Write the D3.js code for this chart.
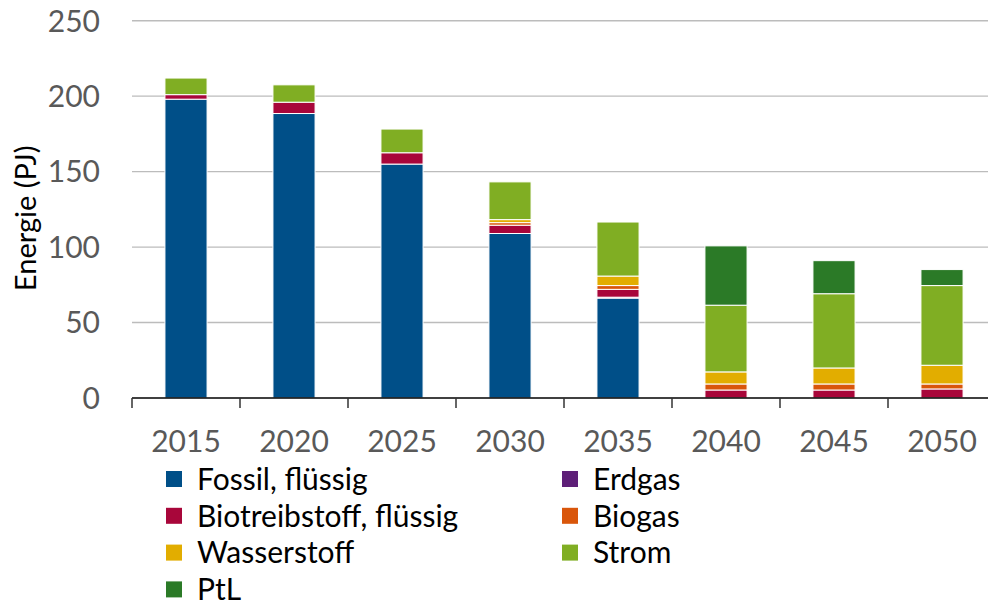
<!DOCTYPE html>
<html><head><meta charset="utf-8">
<script src="https://cdn.jsdelivr.net/npm/d3@7"></script>
<style>html,body{margin:0;padding:0;background:#fff;}svg{display:block;}</style>
</head><body>
<svg id="chart" width="988" height="605"></svg>
<script>
const years = ["2015","2020","2025","2030","2035","2040","2045","2050"];
const seriesNames = ["Fossil, flüssig","Erdgas","Biotreibstoff, flüssig","Biogas","Wasserstoff","Strom","PtL"];
const fossil = [198, 188.5, 155, 109, 66.2, 0, 0, 0];
const erdgas = [0, 0, 0, 0, 0.6, 0, 0, 0];
const bio = [3, 7.5, 7.5, 5.5, 5.2, 5.3, 5.3, 6];
const biogas = [0, 0, 0, 1.7, 2.5, 4, 4, 3.3];
const wasserstoff = [0, 0, 0, 2, 6.3, 8, 10.6, 12.4];
const strom = [11, 11.5, 15.7, 25, 35.8, 44.2, 49.2, 52.8];
const ptl = [0, 0, 0, 0, 0, 39.3, 21.9, 10.6];
const colors = ["#004f88","#5e1f78","#a8063a","#d9560b","#e2ad00","#80ae23","#2b7a27"];
const yTicks = [0, 50, 100, 150, 200, 250];
const yTitle = "Energie (PJ)";

const seriesValues = [fossil, erdgas, bio, biogas, wasserstoff, strom, ptl];
const rows = years.map((yr, i) => {
  const r = {year: yr};
  seriesNames.forEach((s, k) => r[s] = seriesValues[k][i]);
  return r;
});

const svg = d3.select("#chart");
const pLeft = 132, pRight = 996, pTop = 20.7, pBottom = 398;
const x = d3.scaleBand().domain(years).range([pLeft, pRight]).paddingInner(0.61).paddingOuter(0.305);
const xb = d3.scaleBand().domain(years).range([pLeft, pRight]);
const y = d3.scaleLinear().domain([0, 250]).range([pBottom, pTop]);
const font = "Lato, 'Open Sans', sans-serif";

// gridlines
svg.append("g").selectAll("line").data(yTicks.filter(d => d > 0)).join("line")
  .attr("x1", pLeft).attr("x2", 988)
  .attr("y1", d => y(d)).attr("y2", d => y(d))
  .attr("stroke", "#bcbcbc").attr("stroke-width", 1.4);

// y labels
svg.append("g").selectAll("text").data(yTicks).join("text")
  .attr("x", 100).attr("y", d => y(d)).attr("dy", "0.36em")
  .attr("text-anchor", "end").attr("font-family", font).attr("font-size", 30)
  .attr("fill", "#595959").text(d => d);

// y title
svg.append("text").attr("transform", `translate(36,${(pTop + pBottom) / 2 + 9}) rotate(-90)`)
  .attr("text-anchor", "middle").attr("font-family", font).attr("font-size", 29)
  .attr("fill", "#000").text(yTitle);

// stacked bars
const stack = d3.stack().keys(seriesNames)(rows);
svg.append("g").selectAll("g").data(stack).join("g")
  .attr("fill", (d, i) => colors[i])
  .selectAll("rect").data(d => d.filter(p => p[1] - p[0] > 0)).join("rect")
  .attr("x", d => x(d.data.year)).attr("width", x.bandwidth())
  .attr("y", d => y(d[1])).attr("height", d => y(d[0]) - y(d[1]))
  .attr("stroke", "#fff").attr("stroke-width", 1);

// x axis
const xAxis = svg.append("g");
xAxis.append("line").attr("x1", pLeft).attr("x2", 988).attr("y1", pBottom).attr("y2", pBottom)
  .attr("stroke", "#000").attr("stroke-width", 1.5);
const bounds = years.map(d => xb(d)).concat([xb(years[years.length - 1]) + xb.bandwidth()]);
xAxis.selectAll("line.tick").data(bounds).join("line").attr("class", "tick")
  .attr("x1", d => d).attr("x2", d => d).attr("y1", pBottom).attr("y2", pBottom + 10)
  .attr("stroke", "#333").attr("stroke-width", 1.5);
xAxis.selectAll("text").data(years).join("text")
  .attr("x", d => x(d) + x.bandwidth() / 2).attr("y", 452)
  .attr("text-anchor", "middle").attr("font-family", font).attr("font-size", 30)
  .attr("fill", "#595959").text(d => d);

// legend
const legendPos = [[0,0],[1,0],[0,1],[1,1],[0,2],[1,2],[0,3]];
const lg = svg.append("g");
seriesNames.forEach((s, i) => {
  const [c, r] = legendPos[i];
  const lx = c === 0 ? 166 : 562;
  const ly = 479 + r * 36.8;
  lg.append("rect").attr("x", lx).attr("y", ly - 8).attr("width", 16).attr("height", 16).attr("fill", colors[i]);
  lg.append("text").attr("x", lx + 31).attr("y", ly).attr("dy", "0.36em")
    .attr("font-family", font).attr("font-size", 30).attr("fill", "#000").text(s);
});
</script>
</body></html>
